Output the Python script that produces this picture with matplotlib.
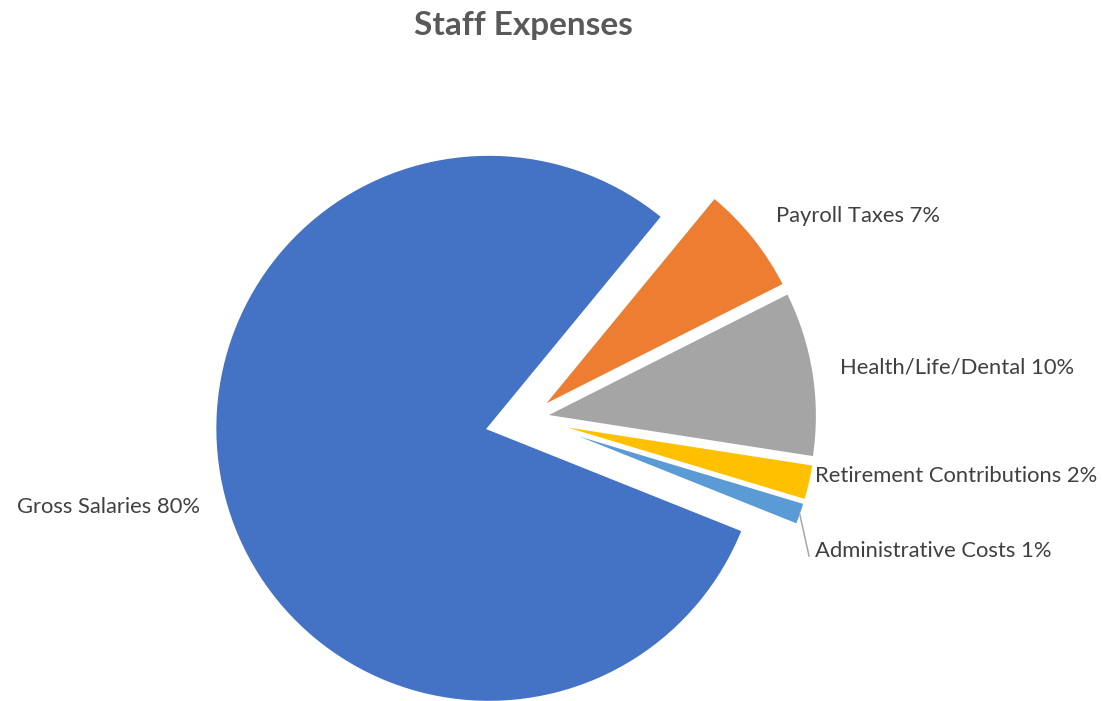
import numpy as np
import matplotlib
matplotlib.use("Agg")
import matplotlib.pyplot as plt

# Data
categories = ["Gross Salaries", "Payroll Taxes", "Health/Life/Dental",
              "Retirement Contributions", "Administrative Costs"]
shares = [79.9, 6.6, 9.9, 2.2, 1.4]
colors = ["#4472C4", "#ED7D31", "#A5A5A5", "#FFC000", "#5B9BD5"]

# Layout (axes spans the whole figure, 1 data unit = 1 px)
W, H = 1102, 701
center = (527.6, H - 418.4)
radius = 274.2
explode = [40, 16, 16, 16, 16]
# label anchors (left x, baseline y measured from top)
label_pos = [(17, 513), (776, 222), (840, 374), (815, 482), (815, 557)]

plt.rcParams["font.family"] = ["Lato", "DejaVu Sans"]

fig = plt.figure(figsize=(W / 100, H / 100), dpi=100)
ax = fig.add_axes([0, 0, 1, 1])

wedges, _ = ax.pie(shares, colors=colors, explode=explode, radius=radius,
                   center=center, startangle=-21.8, counterclock=False,
                   wedgeprops=dict(edgecolor="white", linewidth=2.45))
ax.set_xlim(0, W)
ax.set_ylim(0, H)
ax.set_aspect("equal")
ax.axis("off")

total = sum(shares)
for name, val, (lx, ly) in zip(categories, shares, label_pos):
    ax.text(lx, H - ly, f"{name} {val / total * 100:.0f}%", ha="left",
            va="baseline", fontsize=15.85, color="#404040")

# leader line for the smallest slice
w = wedges[4]
tm = np.deg2rad((w.theta1 + w.theta2) / 2)
x0 = w.center[0] + (w.r - 2) * np.cos(tm)
y0 = w.center[1] + (w.r - 2) * np.sin(tm)
ax.plot([x0, 809], [y0, H - 556], color="#A6A6A6", linewidth=1.1)

fig.text(523.5 / W, 1 - 35 / H, "Staff Expenses", ha="center", va="baseline",
         fontsize=24, fontweight="bold", color="#595959")

fig.savefig("out.png", dpi=100)
